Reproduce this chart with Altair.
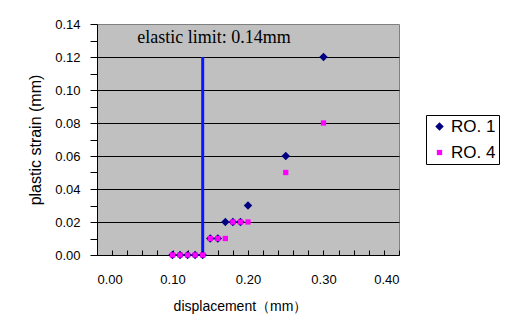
import altair as alt
import pandas as pd

# ---- data ----
displacement = [0.10, 0.11, 0.12, 0.13, 0.14, 0.15, 0.16, 0.17, 0.18, 0.19, 0.20, 0.25, 0.30]
ro1_strain = [0.00, 0.00, 0.00, 0.00, 0.00, 0.01, 0.01, 0.02, 0.02, 0.02, 0.03, 0.06, 0.12]
ro4_strain = [0.00, 0.00, 0.00, 0.00, 0.00, 0.01, 0.01, 0.01, 0.02, 0.02, 0.02, 0.05, 0.08]
series_names = ["RO. 1", "RO. 4"]
elastic_x = [0.14]
elastic_y0 = [0.00]
elastic_y1 = [0.12]
note_text = ["elastic limit: 0.14mm"]
note_x = [0.155]
note_y = [0.1315]
y_tick_values = [0.00, 0.01, 0.02, 0.03, 0.04, 0.05, 0.06, 0.07, 0.08, 0.09, 0.10, 0.11, 0.12, 0.13, 0.14]
x_label_values = [0.00, 0.10, 0.20, 0.30, 0.40]
x_minor_ticks = [0.00, 0.02, 0.04, 0.06, 0.08, 0.10, 0.12, 0.14, 0.16, 0.18, 0.20,
                 0.22, 0.24, 0.26, 0.28, 0.30, 0.32, 0.34, 0.36, 0.38, 0.40]

pts = pd.DataFrame({
    "x": displacement + displacement,
    "y": ro1_strain + ro4_strain,
    "series": [series_names[0]] * len(displacement) + [series_names[1]] * len(displacement),
})
rule_df = pd.DataFrame({"x": elastic_x, "y": elastic_y0, "y2": elastic_y1})
note_df = pd.DataFrame({"x": note_x, "y": note_y, "t": note_text})

W, H = 302, 231
sans = "Liberation Sans"

xscale = alt.Scale(domain=[0, 0.4], nice=False, zero=False)
yscale = alt.Scale(domain=[0, 0.14], nice=False, zero=False)

even = "round(datum.value*100) % 2 == 0"

points = alt.Chart(pts).mark_point(filled=True, opacity=1).encode(
    x=alt.X("x:Q", scale=xscale, title="displacement（mm）",
            axis=alt.Axis(values=x_label_values, format=".2f", ticks=False, tickSize=0,
                          grid=False, domainColor="black", domainWidth=1,
                          labelFont=sans, labelFontSize=13, labelColor="black",
                          labelPadding=18, titleFont=sans, titleFontSize=14,
                          titleFontWeight="normal", titleColor="black", titlePadding=13,
                          titleX=143)),
    y=alt.Y("y:Q", scale=yscale, title="plastic strain (mm)",
            axis=alt.Axis(values=y_tick_values,
                          labelExpr=f"{even} ? format(datum.value, '.2f') : ''",
                          tickSize=7, tickColor="black", domainColor="black",
                          grid=True, gridColor="black", gridWidth=1,
                          gridOpacity={"condition": {"test": f"{even} && datum.value < 0.135 && datum.value > 0.005", "value": 1}, "value": 0},
                          labelFont=sans, labelFontSize=13, labelColor="black",
                          labelPadding=10, titleFont=sans, titleFontSize=16,
                          titleFontWeight="normal", titleColor="black", titlePadding=11)),
    color=alt.Color("series:N", scale=alt.Scale(domain=series_names, range=["#000080", "#FF00FF"]),
                    legend=alt.Legend(title=None, orient="none", legendX=329, legendY=91,
                                      strokeColor="black", fillColor="white", padding=3,
                                      symbolOffset=2,
                                      labelFont=sans, labelFontSize=17, labelColor="black",
                                      symbolSize=50, rowPadding=8, labelOffset=3)),
    shape=alt.Shape("series:N", scale=alt.Scale(domain=series_names, range=["diamond", "square"])),
    size=alt.Size("series:N", scale=alt.Scale(domain=series_names, range=[72, 28]), legend=None),
)

rule = alt.Chart(rule_df).mark_rule(color="#0A14FF", strokeWidth=3).encode(
    x=alt.X("x:Q", scale=xscale,
            axis=alt.Axis(orient="top", offset=-H, values=x_minor_ticks, labels=False,
                          domain=False, grid=False, tickSize=5, tickColor="black", title=None)),
    y=alt.Y("y:Q", scale=yscale, axis=None),
    y2="y2:Q",
)

note = alt.Chart(note_df).mark_text(font="Liberation Serif", fontSize=18, color="black",
                                    align="center", baseline="middle").encode(
    x=alt.X("x:Q", scale=xscale, axis=None),
    y=alt.Y("y:Q", scale=yscale, axis=None),
    text="t:N",
)

chart = alt.layer(rule, points, note).resolve_axis(x="independent", y="independent").properties(
    width=W, height=H,
    autosize=alt.AutoSizeParams(type="none"),
    padding={"left": 89, "top": 16, "right": 105, "bottom": 70},
    background="white",
).configure_view(fill="#C0C0C0", stroke="#808080", strokeWidth=1)

chart.save("out.html", embed_options={"renderer": "svg", "actions": False})
